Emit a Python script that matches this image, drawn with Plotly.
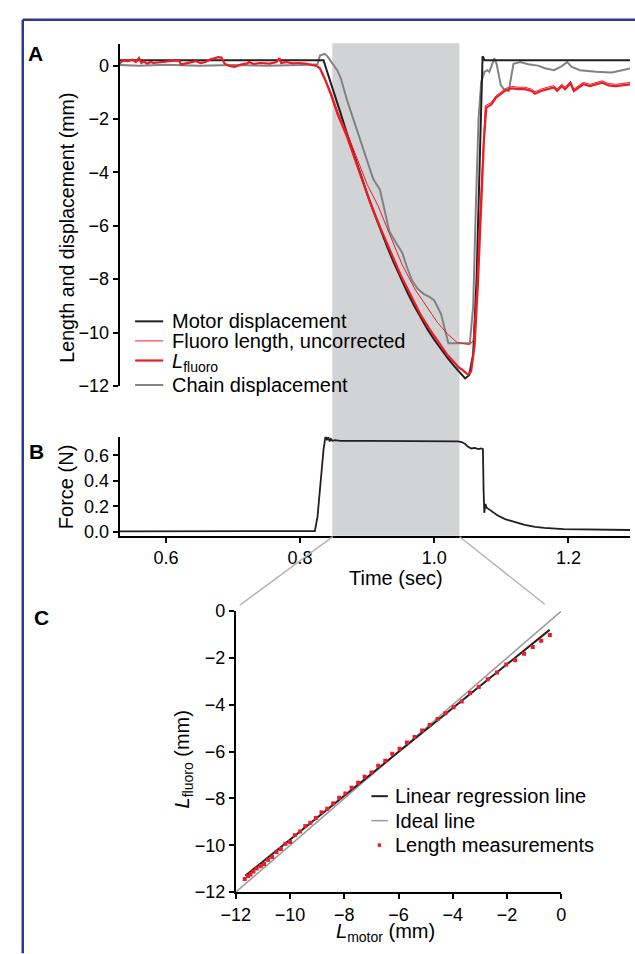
import plotly.graph_objects as go

W, H = 635, 954

# ---------------- Data: panel A (time in s, length in mm) ----------------
motor_t = [0.531, 0.835, 0.84, 0.85, 0.86, 0.87, 0.88, 0.89, 0.90, 0.91, 0.92, 0.93,
           0.94, 0.95, 0.96, 0.97, 0.98, 0.99, 1.00, 1.01, 1.02, 1.03, 1.04, 1.046,
           1.052, 1.058, 1.063, 1.067, 1.070, 1.072, 1.075, 1.292]
motor_y = [0.2, 0.2, -0.2, -0.95, -1.75, -2.55, -3.33, -4.08, -4.8, -5.5, -6.17, -6.8,
           -7.4, -7.96, -8.5, -9.0, -9.46, -9.88, -10.27, -10.63, -10.96, -11.27, -11.56, -11.72,
           -11.6, -10.8, -8.0, -4.5, -1.0, 0.35, 0.2, 0.2]

base_t = [0.5307, 0.536, 0.5432, 0.5505, 0.5552, 0.56, 0.5634, 0.5672, 0.5721, 0.5769,
          0.5817, 0.5889, 0.5961, 0.6058, 0.6154, 0.6202, 0.6226, 0.6299, 0.6371, 0.6443,
          0.6516, 0.6588, 0.666, 0.6732, 0.678, 0.6828, 0.6876, 0.6949, 0.7021, 0.7117,
          0.7213, 0.7238, 0.731, 0.7406, 0.7549, 0.7646, 0.7694, 0.7718, 0.7791, 0.7887,
          0.7983, 0.8079, 0.8176, 0.8248]
base_y = [0.073, 0.195, 0.171, 0.22, 0.134, 0.281, 0.098, 0.159, 0.073, 0.134,
          0.098, 0.122, 0.159, 0.183, 0.195, 0.171, 0.037, 0.085, 0.134, 0.171,
          0.098, 0.134, 0.232, 0.281, 0.318, 0.30, 0.073, -0.012, -0.049, 0.037,
          0.085, 0.134, 0.061, 0.098, 0.073, 0.134, 0.281, 0.098, 0.134, 0.085,
          0.098, 0.073, 0.012, -0.012]

lf_desc_t = [0.8296, 0.8368, 0.846, 0.856, 0.870, 0.885, 0.904, 0.92, 0.935, 0.95,
             0.965, 0.98, 0.995, 1.01, 1.02, 1.03, 1.036, 1.042, 1.047, 1.0505,
             1.055, 1.06, 1.065, 1.07, 1.074]
lf_desc_y = [-0.11, -0.5, -1.09, -1.83, -2.67, -3.77, -5.1, -6.1, -7.0, -7.85,
             -8.6, -9.35, -9.95, -10.5, -10.85, -11.12, -11.3, -11.4, -11.5, -11.58,
             -11.45, -10.5, -8.2, -5.24, -2.8]
lf_after_t = [1.0775, 1.085, 1.092, 1.099, 1.106, 1.116, 1.125, 1.135, 1.145, 1.15,
              1.159, 1.169, 1.1786, 1.183, 1.19, 1.195, 1.203, 1.208, 1.215, 1.222,
              1.232, 1.241, 1.25, 1.26, 1.27, 1.28, 1.292]
lf_after_y = [-1.57, -1.45, -1.2, -1.07, -0.93, -0.85, -0.88, -0.88, -0.95, -1.05,
              -0.95, -0.88, -0.82, -0.95, -0.77, -0.88, -0.66, -0.95, -0.82, -0.7,
              -0.77, -0.7, -0.64, -0.74, -0.77, -0.74, -0.7]

unc_desc_t = [0.8296, 0.8368, 0.846, 0.856, 0.870, 0.885, 0.900, 0.916, 0.933, 0.952,
              0.972, 0.988, 1.005, 1.02, 1.034, 1.045, 1.053, 1.058, 1.063, 1.068, 1.073]
unc_desc_y = [-0.08, -0.45, -1.0, -1.72, -2.52, -3.5, -4.45, -5.24, -6.3, -7.45,
              -8.41, -9.02, -9.63, -10.06, -10.37, -10.42, -10.45, -10.3, -8.5, -5.5, -2.8]
unc_after_t = [1.076, 1.085, 1.092, 1.099, 1.106, 1.116, 1.125, 1.135, 1.145, 1.15,
               1.159, 1.169, 1.1786, 1.183, 1.19, 1.195, 1.203, 1.208, 1.215, 1.222,
               1.232, 1.241, 1.25, 1.26, 1.27, 1.28, 1.292]
unc_after_y = [-1.5, -1.38, -1.13, -1.0, -0.86, -0.78, -0.81, -0.81, -0.88, -0.98,
               -0.88, -0.81, -0.75, -0.88, -0.7, -0.81, -0.59, -0.88, -0.75, -0.63,
               -0.7, -0.63, -0.57, -0.67, -0.7, -0.67, -0.63]

chain_t = [0.531, 0.56, 0.60, 0.65, 0.70, 0.75, 0.80, 0.826, 0.8296, 0.8368, 0.8416,
           0.8488, 0.856, 0.861, 0.870, 0.880, 0.890, 0.899, 0.909, 0.919, 0.926,
           0.933, 0.942, 0.952, 0.960, 0.967, 0.975, 0.984, 0.992, 1.000, 1.010,
           1.016, 1.021, 1.053, 1.058, 1.062, 1.066, 1.070, 1.075, 1.079, 1.082,
           1.0895, 1.093, 1.099, 1.104, 1.111, 1.115, 1.118, 1.128, 1.14, 1.1545,
           1.165, 1.1786, 1.19, 1.198, 1.205, 1.217, 1.241, 1.265, 1.285, 1.292]
chain_y = [0.02, 0.0, 0.03, 0.0, 0.02, 0.0, 0.02, 0.05, 0.38, 0.44, 0.32,
           0.07, -0.2, -0.5, -1.3, -2.05, -2.8, -3.5, -4.25, -4.65, -5.45,
           -6.2, -6.6, -7.0, -7.6, -8.05, -8.35, -8.55, -8.65, -8.8, -9.3,
           -9.9, -10.4, -10.4, -9.0, -5.24, -2.0, -0.6, -0.23, -0.17, -0.23,
           0.27, 0.05, -0.72, -0.9, -0.95, -0.35, 0.07, 0.13, 0.05, 0.0,
           -0.1, -0.17, -0.02, 0.13, -0.05, -0.17, -0.23, -0.26, -0.17, -0.11]

# ---------------- Data: panel B (force, N) ----------------
force_t = [0.531, 0.60, 0.70, 0.80, 0.822, 0.826, 0.831, 0.835, 0.838, 0.840, 0.842,
           0.844, 0.846, 0.848, 0.852, 0.86, 0.90, 0.95, 1.00, 1.035, 1.041, 1.046,
           1.050, 1.055, 1.060, 1.066, 1.070, 1.0725, 1.0734, 1.0745, 1.0763, 1.078,
           1.0822, 1.088, 1.094, 1.1055, 1.12, 1.1348, 1.15, 1.164, 1.193, 1.23,
           1.26, 1.292]
force_n = [0.005, 0.005, 0.006, 0.005, 0.006, 0.12, 0.41, 0.65, 0.755, 0.72, 0.745,
           0.71, 0.73, 0.715, 0.72, 0.715, 0.715, 0.713, 0.713, 0.71, 0.705, 0.69,
           0.67, 0.655, 0.66, 0.65, 0.655, 0.65, 0.35, 0.15, 0.22, 0.19,
           0.175, 0.15, 0.13, 0.10, 0.075, 0.055, 0.04, 0.032, 0.022, 0.018,
           0.016, 0.015]

shade_start, shade_end = 0.848, 1.0375

# ---------------- Data: panel C ----------------
meas_motor = [-11.67, -11.55, -11.46, -11.35, -11.23, -11.08, -10.96, -10.81, -10.66, -10.50,
              -10.34, -10.17, -10.00, -9.82, -9.63, -9.44, -9.25, -9.05, -8.84, -8.63,
              -8.41, -8.19, -7.96, -7.73, -7.49, -7.25, -7.00, -6.75, -6.49, -6.23,
              -5.96, -5.69, -5.41, -5.13, -4.85, -4.56, -4.27, -3.97, -3.67, -3.36,
              -3.04, -2.71, -2.37, -2.03, -1.70, -1.37, -1.05, -0.74, -0.42]
meas_fluoro = [-11.44, -11.31, -11.25, -11.12, -10.99, -10.89, -10.80, -10.62, -10.50, -10.29,
               -10.16, -9.94, -9.86, -9.57, -9.41, -9.18, -9.04, -8.83, -8.59, -8.44,
               -8.21, -7.97, -7.79, -7.54, -7.33, -7.07, -6.89, -6.60, -6.39, -6.09,
               -5.88, -5.61, -5.38, -5.10, -4.86, -4.61, -4.36, -4.10, -3.86, -3.50,
               -3.24, -2.91, -2.62, -2.28, -2.10, -1.82, -1.53, -1.27, -1.02]
reg_x = [-11.65, -0.43]
reg_y = [-11.30, -0.80]
ideal_x = [-12, 0.05]
ideal_y = [-12, 0.05]

legendA_labels = ["Motor displacement", "Fluoro length, uncorrected",
                  "<i>L</i><sub>fluoro</sub>", "Chain displacement"]
legendC_labels = ["Linear regression line", "Ideal line", "Length measurements"]

# ---------------- Styles ----------------
RED = "#ed1c24"
BLACK = "#231f20"
GREY = "#808285"
SHADE = "#d1d3d4"
FONT = "Liberation Sans, Arial, sans-serif"
TICK = 18

fig = go.Figure()

fig.add_trace(go.Scatter(x=chain_t, y=chain_y, mode="lines", name=legendA_labels[3],
                         line=dict(color=GREY, width=2), showlegend=False,
                         xaxis="x", yaxis="y"))
fig.add_trace(go.Scatter(x=motor_t, y=motor_y, mode="lines", name=legendA_labels[0],
                         line=dict(color=BLACK, width=2), showlegend=False,
                         xaxis="x", yaxis="y"))
fig.add_trace(go.Scatter(x=base_t + unc_desc_t + unc_after_t, y=base_y + unc_desc_y + unc_after_y,
                         mode="lines", name=legendA_labels[1],
                         line=dict(color=RED, width=1), showlegend=False,
                         xaxis="x", yaxis="y"))
fig.add_trace(go.Scatter(x=base_t + lf_desc_t + lf_after_t, y=base_y + lf_desc_y + lf_after_y,
                         mode="lines", name=legendA_labels[2],
                         line=dict(color=RED, width=2.2), showlegend=False,
                         xaxis="x", yaxis="y"))

fig.add_trace(go.Scatter(x=force_t, y=force_n, mode="lines", showlegend=False,
                         line=dict(color=BLACK, width=1.8), xaxis="x2", yaxis="y2"))

fig.add_trace(go.Scatter(x=ideal_x, y=ideal_y, mode="lines", name=legendC_labels[1],
                         line=dict(color="#999999", width=1.5), showlegend=False,
                         xaxis="x3", yaxis="y3"))
fig.add_trace(go.Scatter(x=reg_x, y=reg_y, mode="lines", name=legendC_labels[0],
                         line=dict(color=BLACK, width=2), showlegend=False,
                         xaxis="x3", yaxis="y3"))
fig.add_trace(go.Scatter(x=meas_motor, y=meas_fluoro, mode="markers", name=legendC_labels[2],
                         marker=dict(color=RED, size=4, symbol="square", line=dict(width=0)),
                         showlegend=False, xaxis="x3", yaxis="y3"))


def px(x):
    return x / W


def py(y):
    return 1 - y / H


axis_common = dict(showline=True, linecolor="black", linewidth=2, ticks="outside",
                   ticklen=5, tickwidth=2, tickcolor="black", showgrid=False,
                   zeroline=False, tickfont=dict(size=TICK, color="black", family=FONT))

tA = [0, -2, -4, -6, -8, -10, -12]
tB = [0.0, 0.2, 0.4, 0.6]
tT = [0.6, 0.8, 1.0, 1.2]
tC = [-12, -10, -8, -6, -4, -2, 0]


def lab(v, fmt):
    return fmt.format(v).replace("-", "\u2212")


fig.update_layout(
    width=W, height=H, margin=dict(l=0, r=0, t=0, b=0), showlegend=False,
    paper_bgcolor="white", plot_bgcolor="rgba(0,0,0,0)",
    font=dict(family=FONT, color="black"),
    xaxis=dict(domain=[px(108), 1], range=[0.531, 1.2917], anchor="y", matches="x2",
               showline=False, showticklabels=False, ticks="", showgrid=False, zeroline=False),
    yaxis=dict(domain=[py(384), py(35)], range=[-12, 0.8], anchor="x",
               tickvals=tA, ticktext=[lab(v, "{:d}") for v in tA], **axis_common),
    xaxis2=dict(domain=[px(108), 1], range=[0.531, 1.2917], anchor="y2",
                tickvals=tT, ticktext=[lab(v, "{:.1f}") for v in tT], **axis_common),
    yaxis2=dict(domain=[py(537), py(436)], range=[-0.03, 0.746], anchor="x2",
                tickvals=tB, ticktext=[lab(v, "{:.1f}") for v in tB], **axis_common),
    xaxis3=dict(domain=[px(228), px(564)], range=[-12, 0], anchor="y3",
                tickvals=tC, ticktext=[lab(v, "{:d}") for v in tC], **axis_common),
    yaxis3=dict(domain=[py(901), py(614)], range=[-12, 0], anchor="x3",
                tickvals=tC, ticktext=[lab(v, "{:d}") for v in tC], **axis_common),
)

BORDER = "#2b3a8c"
shapes = [
    dict(type="rect", xref="x2", yref="paper", x0=shade_start, x1=shade_end,
         y0=py(537), y1=py(34), fillcolor=SHADE, line=dict(width=0), layer="below"),
    dict(type="line", xref="paper", yref="paper", x0=px(328), y0=py(538), x1=px(232), y1=py(608),
         line=dict(color="#b5b5b5", width=1.5)),
    dict(type="line", xref="paper", yref="paper", x0=px(459), y0=py(538), x1=px(547), y1=py(607),
         line=dict(color="#b5b5b5", width=1.5)),
    dict(type="line", xref="paper", yref="paper", x0=px(8), y0=py(10), x1=1.01, y1=py(10),
         line=dict(color=BORDER, width=2.5)),
    dict(type="line", xref="paper", yref="paper", x0=px(8), y0=py(10), x1=px(8), y1=-0.01,
         line=dict(color=BORDER, width=2.5)),
]

# legend samples (panel A)
legA_rows = [318, 338, 358, 383]
legA_styles = [dict(color=BLACK, width=2), dict(color=RED, width=1),
               dict(color=RED, width=2.2), dict(color=GREY, width=2)]
for yy, st in zip(legA_rows, legA_styles):
    shapes.append(dict(type="line", xref="paper", yref="paper", x0=px(124), x1=px(153),
                       y0=py(yy), y1=py(yy), line=st))
# legend samples (panel C)
legC_rows = [803, 828, 853]
shapes.append(dict(type="line", xref="paper", yref="paper", x0=px(368), x1=px(385),
                   y0=py(803), y1=py(803), line=dict(color=BLACK, width=2)))
shapes.append(dict(type="line", xref="paper", yref="paper", x0=px(368), x1=px(385),
                   y0=py(828), y1=py(828), line=dict(color="#999999", width=1.5)))
shapes.append(dict(type="rect", xref="paper", yref="paper", x0=px(374.5), x1=px(378),
                   y0=py(854.8), y1=py(851.2), fillcolor=RED, line=dict(width=0)))
fig.update_layout(shapes=shapes)


def ann(text, x, y, size=20, angle=0, bold=False, xanchor="center"):
    return dict(text=f"<b>{text}</b>" if bold else text, x=px(x), y=py(y), xref="paper",
                yref="paper", showarrow=False, xanchor=xanchor, yanchor="middle",
                textangle=angle, font=dict(size=size, family=FONT, color="black"))


anns = [
    ann("A", 21, 44, size=21, bold=True),
    ann("B", 22, 451, size=21, bold=True),
    ann("C", 27, 620, size=21, bold=True),
    ann("Length and displacement (mm)", 54, 222, size=19.6, angle=-90),
    ann("Force (N)", 52, 487, angle=-90),
    ann("Time (sec)", 393, 580),
    ann("<i>L</i><sub>fluoro</sub> (mm)", 174, 766, angle=-90),
    ann("<i>L</i><sub>motor</sub> (mm)", 383, 942),
]
for yy, t in zip(legA_rows, legendA_labels):
    anns.append(ann(t, 160, yy + (2 if "sub" in t else 0), xanchor="left"))
for yy, t in zip(legC_rows, legendC_labels):
    anns.append(ann(t, 390, yy, xanchor="left"))
fig.update_layout(annotations=anns)

fig.write_html("out.html", config={"displayModeBar": False},
               post_script="document.body.style.margin='0';document.body.style.overflow='hidden';")
